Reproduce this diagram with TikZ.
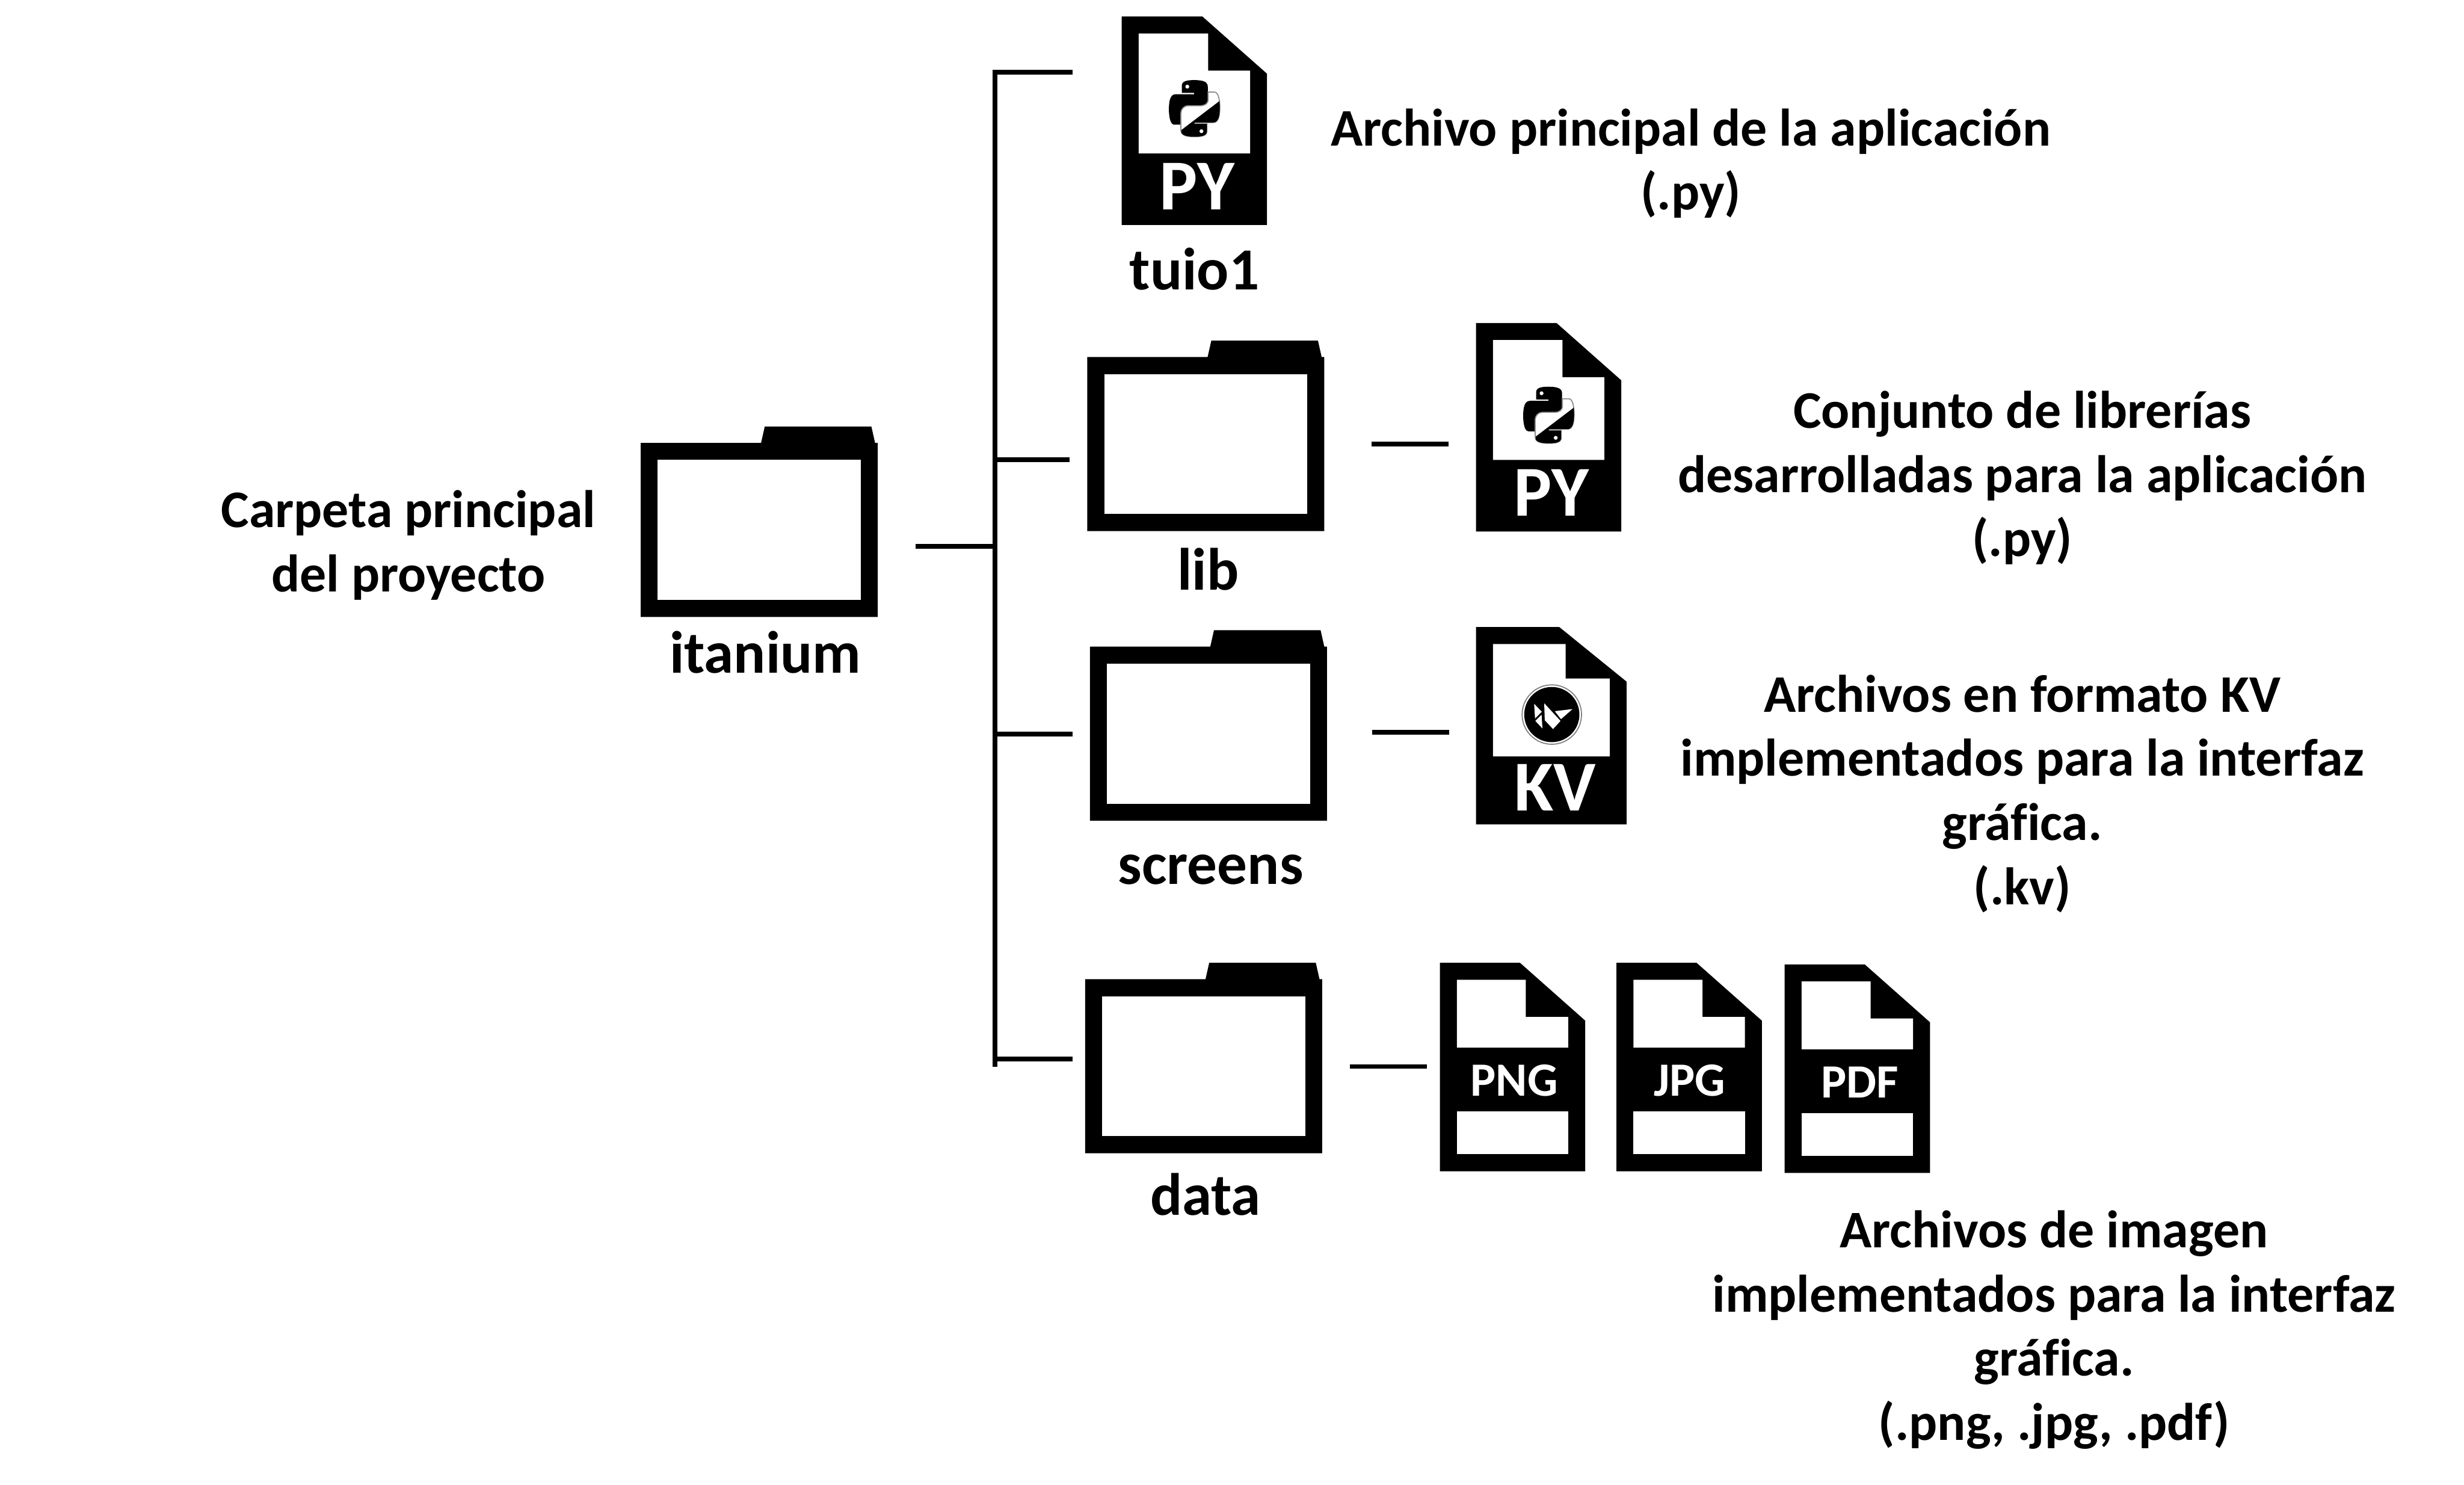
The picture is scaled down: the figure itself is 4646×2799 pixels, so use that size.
\documentclass[tikz,border=0pt]{standalone}
\usepackage{fontspec}
\setmainfont[Ligatures=NoCommon]{Carlito}
\usepackage{tikz}
\usetikzlibrary{positioning}

\newcommand{\pysnake}{(115,105) -- (115,65) .. controls (115,40) and (140,33) .. (185,33)
  .. controls (235,33) and (262,42) .. (262,70) -- (262,165)
  .. controls (262,190) and (245,208) .. (220,208) -- (155,208)
  .. controls (125,208) and (108,220) .. (108,245) -- (108,285) -- (72,285)
  .. controls (50,285) and (42,240) .. (42,198)
  .. controls (42,150) and (50,113) .. (80,113) -- (185,113) -- (185,105) -- cycle}

\begin{document}
\begin{tikzpicture}[
  x=0.01cm, y=-0.01cm,
  desc/.style  = {font=\fontsize{28.35}{34.4}\selectfont\bfseries, align=center, inner sep=0pt},
  dirname/.style = {font=\fontsize{32}{38}\selectfont\bfseries, inner sep=0pt},
  ext/.style   = {font=\fontsize{38.4}{40}\selectfont\bfseries, text=white, inner sep=0pt, anchor=base},
  extsm/.style = {font=\fontsize{25.6}{30}\selectfont\bfseries, text=white, inner sep=0pt, anchor=base},
  conn/.style  = {line width=0.09cm},
  pics/folder/.style = {code={
    \fill (0,0) -- (227,0) -- (234,-31) -- (435,-31) -- (442,0) -- (447,0)
      -- (447,328) -- (0,328) -- cycle;
    \fill[white] (32,32) rectangle (415,296);
  }},
  pics/pyfile/.style = {code={
    \fill (0,0) -- (152,0) -- (274,108) -- (274,393) -- (0,393) -- cycle;
    \fill[white] (32,32) -- (163,32) -- (163,102) -- (242,102) -- (242,258) -- (32,258) -- cycle;
    \begin{scope}[shift={(75,109)}, scale=1/3]
      \fill \pysnake;
      \begin{scope}[rotate around={180:(186,193)}]
        \path[fill=white, draw=black!45, line width=0.02cm] \pysnake;
      \end{scope}
      \begin{scope}
        \clip (113,315) -- (330,150) -- (345,150) -- (345,370) -- (113,370) -- cycle;
        \begin{scope}[rotate around={180:(186,193)}]
          \fill \pysnake;
        \end{scope}
      \end{scope}
      \fill[white] (146,70) circle (11);
      \fill[white] (226,322) circle (11);
    \end{scope}
    \node[ext] (-ext) at (142,364) {PY};
  }},
  pics/kvfile/.style = {code={
    \fill (0,0) -- (157,0) -- (284,103) -- (284,372) -- (0,372) -- cycle;
    \fill[white] (32,32) -- (169,32) -- (169,97) -- (252,97) -- (252,244) -- (32,244) -- cycle;
    \draw[black!50, line width=0.02cm] (143,165) circle (56);
    \fill (143,165) circle (52);
    \begin{scope}[shift={(77,103)}, scale=1/3]
      \fill[white] (98,125) -- (141,170) -- (103,208) -- cycle;
      \fill[white] (140,187) -- (145,265) -- (105,222) -- cycle;
      \fill[white] (155,122) -- (247,222) -- (205,268) -- (158,218) -- cycle;
      \fill[white] (215,167) -- (315,155) -- (250,212) -- cycle;
    \end{scope}
    \node[ext] (-ext) at (149,346) {KV};
  }},
  pics/imgfile/.style 2 args = {code={
    \fill (0,0) -- (151,0) -- (274,109) -- (274,393) -- (0,393) -- cycle;
    \fill[white] (32,32) -- (162,32) -- (162,102) -- (242,102) -- (242,160) -- (32,160) -- cycle;
    \fill[white] (32,280) rectangle (242,361);
    \node[extsm] (-ext) at (#2,251) {#1};
  }},
]
\useasboundingbox (0,0) rectangle (4646,2799);

% ── Root folder ──────────────────────────────────────────────────────────────
\pic (itanium) at (1208,835) {folder};
\node[dirname] (itaniumName) at (1443,1230) {itanium};
\node[desc] (rootDesc) at (770,1028) {Carpeta principal\\del proyecto};

% ── Main file ────────────────────────────────────────────────────────────────
\pic (tuio) at (2115,31) {pyfile};
\node[dirname] (tuioName) at (2252,507) {tuio1};
\node[desc] (tuioDesc) at (3188,308) {Archivo principal de la aplicación\\(.py)};

% ── Sub folders ──────────────────────────────────────────────────────────────
\pic (lib) at (2050,673) {folder};
\node[dirname] (libName) at (2278,1073) {lib};
\pic (screens) at (2055,1219) {folder};
\node[dirname] (screensName) at (2283,1639) {screens};
\pic (data) at (2046,1846) {folder};
\node[dirname] (dataName) at (2273,2252) {data};

% ── Files in each folder ─────────────────────────────────────────────────────
\pic (libfile) at (2783,609) {pyfile};
\node[desc] (libDesc) at (3813,901) {Conjunto de librerías\\desarrolladas para la aplicación\\(.py)};
\pic (kvfile) at (2783,1182) {kvfile};
\node[desc] (kvDesc) at (3813,1496) {Archivos en formato KV\\implementados para la interfaz\\gráfica.\\(.kv)};
\pic (pngfile) at (2715,1815) {imgfile={PNG}{140}};
\pic (jpgfile) at (3048,1815) {imgfile={JPG}{138}};
\pic (pdffile) at (3365,1818) {imgfile={PDF}{142}};
\node[desc] (imgDesc) at (3873,2507) {Archivos de imagen\\implementados para la interfaz\\gráfica.\\(.png, .jpg, .pdf)};

% ── Bus and branches ─────────────────────────────────────────────────────────
\coordinate (busTop)    at (1876.5,132);
\coordinate (busBottom) at (1876.5,2011);
\coordinate (busRoot)   at (1872,1029.5);
\coordinate (rootEnd)   at (1726,1029.5);
\coordinate (busTuio)   at (1876.5,136.5);
\coordinate (tuioEnd)   at (2022,136.5);
\coordinate (busLib)    at (1871,866.5);
\coordinate (libEnd)    at (2017,866.5);
\coordinate (busScr)    at (1876.5,1384);
\coordinate (scrEnd)    at (2022,1384);
\coordinate (busData)   at (1876.5,1996.5);
\coordinate (dataEnd)   at (2022,1996.5);

\draw[conn] (busTop)  -- (busBottom);
\draw[conn] (rootEnd) -- (busRoot);
\draw[conn] (busTuio) -- (tuioEnd);
\draw[conn] (busLib)  -- (libEnd);
\draw[conn] (busScr)  -- (scrEnd);
\draw[conn] (busData) -- (dataEnd);

\coordinate (libOut)  at (2586,837.5);
\coordinate (libIn)   at (2731,837.5);
\coordinate (scrOut)  at (2587,1380);
\coordinate (scrIn)   at (2732,1380);
\coordinate (dataOut) at (2545,2010.5);
\coordinate (dataIn)  at (2691,2010.5);

\draw[conn] (libOut)  -- (libIn);
\draw[conn] (scrOut)  -- (scrIn);
\draw[conn] (dataOut) -- (dataIn);

\end{tikzpicture}
\end{document}
